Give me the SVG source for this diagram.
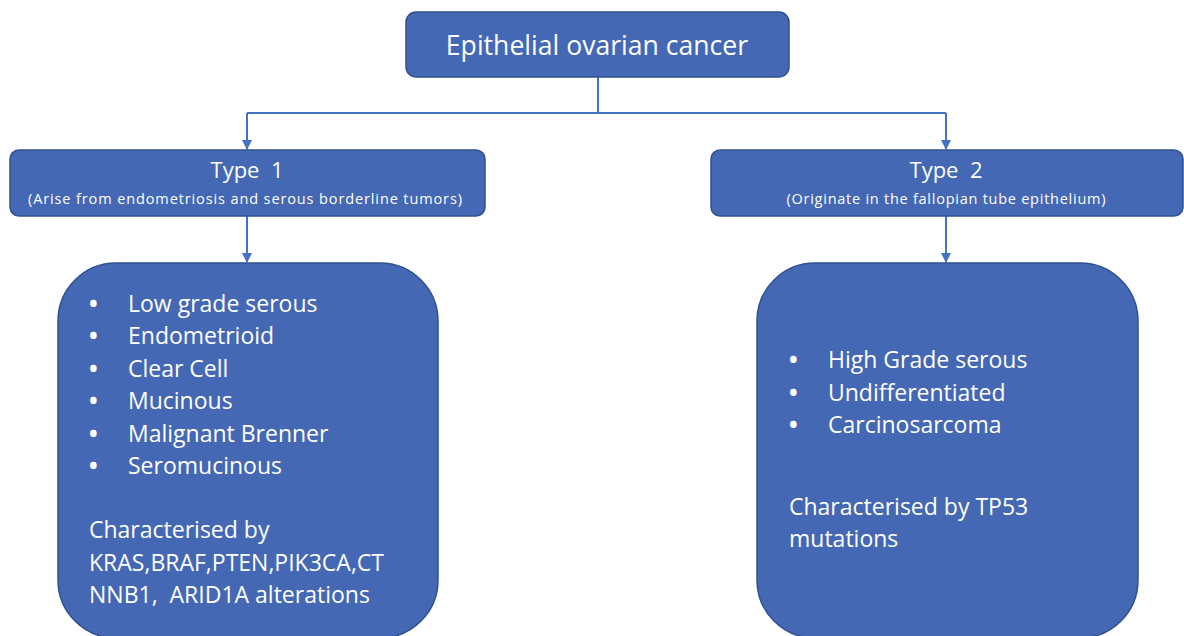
<svg xmlns="http://www.w3.org/2000/svg" width="1184" height="636" viewBox="0 0 1184 636">
<defs>
<style>
.box{fill:#4468B4;stroke:#2F528F;stroke-width:1.5}
.t{font-family:"Open Sans","Liberation Sans",sans-serif;fill:#ffffff}
.b{font-weight:bold}
.conn{stroke:#4472C4;stroke-width:2;fill:none}
</style>
<marker id="ah" viewBox="0 0 10 10" refX="9" refY="5" markerWidth="5" markerHeight="5" orient="auto">
<path d="M0,0 L10,5 L0,10 z" fill="#4472C4"/>
</marker>
</defs>
<rect width="1184" height="636" fill="#ffffff"/>
<g id="connectors">
<path class="conn" d="M598,77 V113"/>
<path class="conn" d="M247,113 H946"/>
<path class="conn" d="M247,113 V149" marker-end="url(#ah)"/>
<path class="conn" d="M946,113 V149" marker-end="url(#ah)"/>
<path class="conn" d="M247,216 V262" marker-end="url(#ah)"/>
<path class="conn" d="M946,216 V262" marker-end="url(#ah)"/>
</g>
<g id="root">
<rect class="box" x="406" y="12" width="383" height="65" rx="10"/>
<text class="t" x="597" y="55" font-size="26.6" text-anchor="middle">Epithelial ovarian cancer</text>
</g>
<g id="type1">
<rect class="box" x="10" y="150" width="475" height="66" rx="9"/>
<text class="t" x="247" y="178" font-size="22" text-anchor="middle" xml:space="preserve">Type  1</text>
<text class="t" x="245" y="204" font-size="14.5" text-anchor="middle" textLength="434" lengthAdjust="spacing">(Arise from endometriosis and serous borderline tumors)</text>
</g>
<g id="type2">
<rect class="box" x="711" y="150" width="472" height="66" rx="9"/>
<text class="t" x="946" y="178" font-size="22" text-anchor="middle" xml:space="preserve">Type  2</text>
<text class="t" x="946" y="204" font-size="14.5" text-anchor="middle" textLength="319" lengthAdjust="spacing">(Originate in the fallopian tube epithelium)</text>
</g>
<g id="type1-details">
<rect class="box" x="58" y="263" width="380" height="375" rx="58"/>
<g class="t" font-size="23">
<text class="b" x="89" y="312">•</text><text x="128" y="312">Low grade serous</text>
<text class="b" x="89" y="344">•</text><text x="128" y="344">Endometrioid</text>
<text class="b" x="89" y="377">•</text><text x="128" y="377">Clear Cell</text>
<text class="b" x="89" y="409">•</text><text x="128" y="409">Mucinous</text>
<text class="b" x="89" y="442">•</text><text x="128" y="442">Malignant Brenner</text>
<text class="b" x="89" y="474">•</text><text x="128" y="474">Seromucinous</text>
<text x="89" y="538">Characterised by</text>
<text x="89" y="571">KRAS,BRAF,PTEN,PIK3CA,CT</text>
<text x="89" y="603" xml:space="preserve">NNB1,  ARID1A alterations</text>
</g>
</g>
<g id="type2-details">
<rect class="box" x="757" y="263" width="381" height="375" rx="58"/>
<g class="t" font-size="23">
<text class="b" x="789" y="368">•</text><text x="828" y="368">High Grade serous</text>
<text class="b" x="789" y="401">•</text><text x="828" y="401">Undifferentiated</text>
<text class="b" x="789" y="433">•</text><text x="828" y="433">Carcinosarcoma</text>
<text x="789" y="515">Characterised by TP53</text>
<text x="789" y="547">mutations</text>
</g>
</g>
</svg>
